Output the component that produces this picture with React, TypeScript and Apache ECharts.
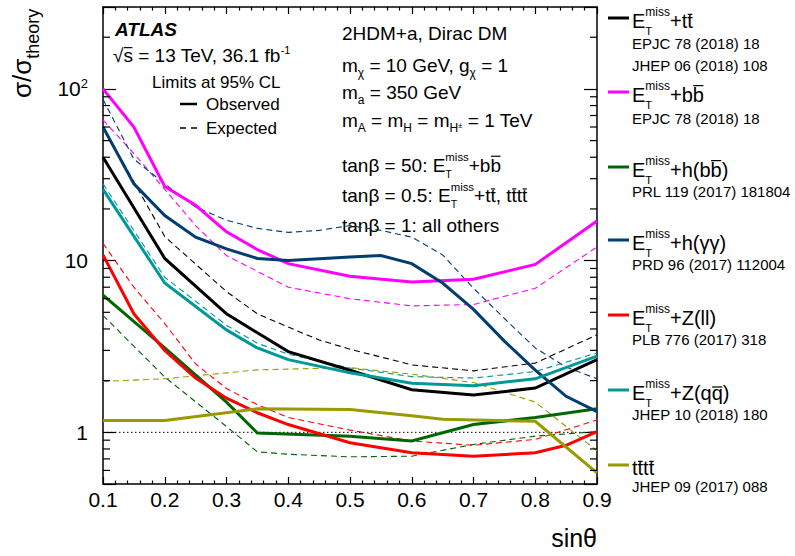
import React, { useEffect, useRef } from 'react';
import * as echarts from 'echarts';

const FONT = '"Liberation Sans", Arial, Helvetica, sans-serif';

// ---------------- data (sinθ, σ/σtheory) ----------------
const TT_OBS_X = [0.1, 0.2, 0.3, 0.35, 0.4, 0.5, 0.6, 0.7, 0.8, 0.9];
const TT_OBS_Y = [40, 10.3, 4.9, 3.8, 2.95, 2.3, 1.77, 1.65, 1.81, 2.65];
const TT_EXP_X = [0.1, 0.2, 0.3, 0.35, 0.4, 0.45, 0.5, 0.6, 0.7, 0.8, 0.9];
const TT_EXP_Y = [60, 13.8, 6.6, 4.9, 4.1, 3.45, 3.05, 2.47, 2.28, 2.53, 3.7];

const BB_OBS_X = [0.1, 0.15, 0.2, 0.25, 0.3, 0.35, 0.4, 0.5, 0.6, 0.7, 0.8, 0.9];
const BB_OBS_Y = [100, 60, 27, 21, 14.7, 11.6, 9.6, 8.1, 7.5, 7.8, 9.5, 17];
const BB_EXP_X = [0.1, 0.15, 0.2, 0.25, 0.3, 0.4, 0.5, 0.6, 0.7, 0.8, 0.9];
const BB_EXP_Y = [66, 42, 26, 16, 10.7, 7.0, 6.0, 5.45, 5.55, 6.9, 12];

const HBB_OBS_X = [0.1, 0.2, 0.3, 0.35, 0.5, 0.6, 0.7, 0.8, 0.9];
const HBB_OBS_Y = [6.3, 3.1, 1.5, 0.99, 0.95, 0.89, 1.11, 1.22, 1.37];
const HBB_EXP_X = [0.1, 0.2, 0.3, 0.35, 0.4, 0.5, 0.6, 0.7, 0.8, 0.9];
const HBB_EXP_Y = [4.8, 2.1, 1.08, 0.77, 0.745, 0.72, 0.726, 0.85, 0.95, 1.01];

const HGG_OBS_X = [0.1, 0.15, 0.2, 0.25, 0.3, 0.35, 0.4, 0.5, 0.55, 0.6, 0.65, 0.7, 0.75, 0.8, 0.85, 0.9];
const HGG_OBS_Y = [60, 28, 18.3, 13.7, 11.7, 10.3, 10.0, 10.5, 10.7, 9.6, 7.4, 5.2, 3.4, 2.3, 1.62, 1.32];
const HGG_EXP_X = [0.1, 0.15, 0.2, 0.25, 0.3, 0.35, 0.4, 0.45, 0.5, 0.55, 0.6, 0.65, 0.7, 0.75, 0.8, 0.85, 0.9];
const HGG_EXP_Y = [87, 39, 28, 20.5, 17.2, 15.4, 14.6, 15.0, 16.0, 15.0, 13.7, 10.8, 6.9, 4.6, 3.1, 2.4, 2.05];

const ZLL_OBS_X = [0.1, 0.15, 0.2, 0.25, 0.3, 0.35, 0.4, 0.5, 0.6, 0.7, 0.8, 0.85, 0.9];
const ZLL_OBS_Y = [10.8, 4.9, 3.0, 2.07, 1.58, 1.3, 1.11, 0.87, 0.76, 0.725, 0.76, 0.84, 1.01];
const ZLL_EXP_X = [0.1, 0.15, 0.2, 0.25, 0.3, 0.35, 0.4, 0.5, 0.6, 0.7, 0.8, 0.9];
const ZLL_EXP_Y = [12.6, 7.0, 4.3, 2.5, 1.8, 1.45, 1.22, 1.03, 0.89, 0.84, 0.91, 1.18];

const ZQQ_OBS_X = [0.1, 0.2, 0.3, 0.35, 0.4, 0.5, 0.6, 0.7, 0.8, 0.9];
const ZQQ_OBS_Y = [26, 7.4, 3.95, 3.1, 2.65, 2.22, 1.93, 1.87, 2.05, 2.78];
const ZQQ_EXP_X = [0.1, 0.2, 0.3, 0.35, 0.4, 0.5, 0.6, 0.7, 0.8, 0.9];
const ZQQ_EXP_Y = [28, 8.0, 4.2, 3.3, 2.85, 2.37, 2.11, 2.07, 2.26, 2.9];

const TTTT_OBS_X = [0.1, 0.2, 0.35, 0.5, 0.6, 0.65, 0.8, 0.9];
const TTTT_OBS_Y = [1.17, 1.17, 1.37, 1.36, 1.25, 1.19, 1.16, 0.58];
const TTTT_EXP_X = [0.1, 0.2, 0.35, 0.5, 0.6, 0.7, 0.8, 0.9];
const TTTT_EXP_Y = [1.98, 2.05, 2.31, 2.38, 2.18, 1.95, 1.5, 0.78];

const UNITY_X = [0.1, 0.9];
const UNITY_Y = [1, 1];

const X_MIN = 0.1;
const X_MAX = 0.9;
const Y_MIN = 0.5;
const Y_MAX = 300;
const Y_MINOR = [0.6, 0.7, 0.8, 0.9, 2, 3, 4, 5, 6, 7, 8, 9, 20, 30, 40, 50, 60, 70, 80, 90, 200];

const COLORS = {
  tt: '#000000',
  bb: '#ff00ff',
  hbb: '#006600',
  hgg: '#003d70',
  zll: '#ff0000',
  zqq: '#00999a',
  tttt: '#999900',
};

const REFS: string[][] = [
  ['EPJC 78 (2018) 18', 'JHEP 06 (2018) 108'],
  ['EPJC 78 (2018) 18'],
  ['PRL 119 (2017) 181804'],
  ['PRD 96 (2017) 112004'],
  ['PLB 776 (2017) 318'],
  ['JHEP 10 (2018) 180'],
  ['JHEP 09 (2017) 088'],
];

// ---------------- text helpers ----------------
let measureCtx: CanvasRenderingContext2D | null = null;
function tw(text: string, size: number, bold = false, italic = false) {
  if (!measureCtx) measureCtx = document.createElement('canvas').getContext('2d');
  measureCtx!.font = `${italic ? 'italic ' : ''}${bold ? 'bold ' : ''}${size}px ${FONT}`;
  return measureCtx!.measureText(text).width;
}

type Seg = {
  t: string;
  s?: number;
  db?: number;
  bar?: number;
  bold?: boolean;
  italic?: boolean;
  under?: { t: string; s: number; db: number };
};

function textEl(x: number, baseline: number, t: string, s: number, bold = false, italic = false, color = '#000') {
  const cy = baseline - 0.35 * s;
  return {
    type: 'text',
    x,
    y: cy,
    silent: true,
    style: {
      text: t,
      fontSize: s,
      fontFamily: FONT,
      fontWeight: bold ? 'bold' : 'normal',
      fontStyle: italic ? 'italic' : 'normal',
      fill: color,
      align: 'left',
      verticalAlign: 'middle',
      textAlign: 'left',
      textVerticalAlign: 'middle',
    },
  };
}

function rich(x: number, baseline: number, segs: Seg[], S: number, color = '#000') {
  const els: any[] = [];
  let cx = x;
  for (const g of segs) {
    const s = g.s ?? S;
    const b = baseline + (g.db ?? 0);
    const w = tw(g.t, s, g.bold, g.italic);
    els.push(textEl(cx, b, g.t, s, g.bold, g.italic, color));
    if (g.bar) {
      const by = b - g.bar * s;
      els.push({
        type: 'line',
        silent: true,
        shape: { x1: cx + 0.5, y1: by, x2: cx + w - 0.5, y2: by },
        style: { stroke: color, lineWidth: Math.max(1, s / 16) },
      });
    }
    let adv = w;
    if (g.under) {
      els.push(textEl(cx, baseline + g.under.db, g.under.t, g.under.s, false, false, color));
      adv = Math.max(w, tw(g.under.t, g.under.s));
    }
    cx += adv;
  }
  return els;
}

function etmiss(S: number): Seg[] {
  return [
    { t: 'E', s: S },
    { t: 'miss', s: 0.6 * S, db: -0.58 * S, under: { t: 'T', s: 0.56 * S, db: 0.33 * S } },
  ];
}

const LEGEND_LABELS: Seg[][] = [
  [...etmiss(20), { t: '+t' }, { t: 't', bar: 0.68 }],
  [...etmiss(20), { t: '+b' }, { t: 'b', bar: 0.82 }],
  [...etmiss(20), { t: '+h(b' }, { t: 'b', bar: 0.82 }, { t: ')' }],
  [...etmiss(20), { t: '+h(γγ)' }],
  [...etmiss(20), { t: '+Z(ll)' }],
  [...etmiss(20), { t: '+Z(q' }, { t: 'q', bar: 0.65 }, { t: ')' }],
  [{ t: 't' }, { t: 't', bar: 0.68 }, { t: 't' }, { t: 't', bar: 0.68 }],
];
const LEGEND_COLORS = [COLORS.tt, COLORS.bb, COLORS.hbb, COLORS.hgg, COLORS.zll, COLORS.zqq, COLORS.tttt];
const LEGEND_LINE_Y = [18, 92, 167, 240, 315, 390, 465];
const LEGEND_REF_Y = [[43, 65], [118], [191], [264], [339], [414], [486]];

function buildGraphics() {
  const els: any[] = [];
  // ATLAS block
  els.push(...rich(115, 29 + 6.7, [{ t: 'ATLAS', bold: true, italic: true }], 19));
  els.push(
    ...rich(113, 55 + 6.7, [{ t: '√' }, { t: 's', bar: 0.74 }, { t: ' = 13 TeV, 36.1 fb' }, { t: '-1', s: 11, db: -8 }], 19)
  );
  els.push(...rich(152, 82 + 6, [{ t: 'Limits at 95% CL' }], 17));
  els.push(...rich(206, 104 + 6, [{ t: 'Observed' }], 17));
  els.push(...rich(206, 128 + 6, [{ t: 'Expected' }], 17));
  els.push({ type: 'line', silent: true, shape: { x1: 180, y1: 104, x2: 197, y2: 104 }, style: { stroke: '#000', lineWidth: 2.5 } });
  els.push({ type: 'line', silent: true, shape: { x1: 180, y1: 128, x2: 186, y2: 128 }, style: { stroke: '#000', lineWidth: 1.5 } });
  els.push({ type: 'line', silent: true, shape: { x1: 191, y1: 128, x2: 197, y2: 128 }, style: { stroke: '#000', lineWidth: 1.5 } });

  // model block
  const S = 19;
  const off = 0.36 * S;
  const sub = (t: string): Seg => ({ t, s: 12, db: 5 });
  els.push(...rich(342, 33 + off, [{ t: '2HDM+a, Dirac DM' }], S));
  els.push(...rich(342, 65 + off, [{ t: 'm' }, sub('χ'), { t: ' = 10 GeV, g' }, sub('χ'), { t: ' = 1' }], S));
  els.push(...rich(342, 92 + off, [{ t: 'm' }, sub('a'), { t: ' = 350 GeV' }], S));
  els.push(
    ...rich(
      342,
      120 + off,
      [{ t: 'm' }, sub('A'), { t: ' = m' }, sub('H'), { t: ' = m' }, sub('H'), { t: '±', s: 8, db: 1 }, { t: ' = 1 TeV' }],
      S
    )
  );
  els.push(...rich(342, 165 + off, [{ t: 'tanβ = 50: ' }, ...etmiss(S), { t: '+b' }, { t: 'b', bar: 0.82 }], S));
  els.push(
    ...rich(
      342,
      195 + off,
      [
        { t: 'tanβ = 0.5: ' },
        ...etmiss(S),
        { t: '+t' },
        { t: 't', bar: 0.68 },
        { t: ', t' },
        { t: 't', bar: 0.68 },
        { t: 't' },
        { t: 't', bar: 0.68 },
      ],
      S
    )
  );
  els.push(...rich(342, 225 + off, [{ t: 'tanβ = 1: all others' }], S));

  // right legend
  LEGEND_LABELS.forEach((segs, i) => {
    const ly = LEGEND_LINE_Y[i];
    els.push({
      type: 'line',
      silent: true,
      shape: { x1: 608, y1: ly, x2: 629, y2: ly },
      style: { stroke: LEGEND_COLORS[i], lineWidth: 3 },
    });
    els.push(...rich(632, ly + 10, segs, 20));
    REFS[i].forEach((r, k) => {
      els.push(...rich(632, LEGEND_REF_Y[i][k] + 5.4, [{ t: r }], 15));
    });
  });

  // axis titles
  els.push(...rich(597 - tw('sinθ', 25), 547, [{ t: 'sinθ' }], 25));
  els.push({
    type: 'group',
    x: 31,
    y: 98,
    rotation: Math.PI / 2,
    children: rich(0, 0, [{ t: 'σ/σ' }, { t: 'theory', s: 18, db: 8 }], 26),
  });
  return els;
}

function zip(xs: number[], ys: number[]) {
  return xs.map((x, i) => [x, ys[i]]);
}

function obs(name: string, xs: number[], ys: number[], color: string) {
  return {
    name,
    type: 'line',
    data: zip(xs, ys),
    showSymbol: false,
    symbol: 'none',
    silent: true,
    z: 4,
    lineStyle: { color, width: 3, type: 'solid', cap: 'butt', join: 'miter' },
  };
}
function expd(name: string, xs: number[], ys: number[], color: string) {
  return {
    name,
    type: 'line',
    data: zip(xs, ys),
    showSymbol: false,
    symbol: 'none',
    silent: true,
    z: 3,
    lineStyle: { color, width: 1.1, type: [6, 4] },
  };
}

function yLabel(v: number) {
  const l = Math.log10(v);
  if (Math.abs(l - Math.round(l)) > 1e-6) return '';
  const e = Math.round(l);
  if (e === 0) return '{n|1}';
  if (e === 1) return '{n|10}';
  return `{n|10}{s|${e}}`;
}

export default function App() {
  const ref = useRef<HTMLDivElement>(null);
  useEffect(() => {
    if (!ref.current) return;
    const chart = echarts.init(ref.current, undefined, { renderer: 'svg' });
    const axisLine = { show: true, onZero: false, lineStyle: { color: '#000', width: 1.5 } };
    const xCommon = {
      type: 'value',
      min: X_MIN,
      max: X_MAX,
      interval: 0.1,
      axisLine,
      axisTick: { show: true, inside: true, length: 7, lineStyle: { color: '#000', width: 1.2 } },
      minorTick: { show: true, splitNumber: 5, length: 3.5, lineStyle: { color: '#000', width: 1.2 } },
      splitLine: { show: false },
      minorSplitLine: { show: false },
    };
    const yCommon = {
      type: 'log',
      logBase: 10,
      min: Y_MIN,
      max: Y_MAX,
      axisLine,
      axisTick: { show: true, inside: true, length: 13, lineStyle: { color: '#000', width: 1.2 } },
      splitLine: { show: false },
    };
    const option: any = {
      animation: false,
      grid: { left: 103, right: 198, top: 7, bottom: 72, containLabel: false },
      xAxis: [
        {
          ...xCommon,
          position: 'bottom',
          axisLabel: {
            show: true,
            margin: 5,
            fontSize: 21,
            fontFamily: FONT,
            color: '#000',
            formatter: (v: number) => v.toFixed(1),
          },
        },
        { ...xCommon, position: 'top', axisLabel: { show: false } },
      ],
      yAxis: [
        {
          ...yCommon,
          position: 'left',
          axisLabel: {
            show: true,
            margin: 15,
            formatter: yLabel,
            rich: {
              n: { fontSize: 21, fontFamily: FONT, color: '#000', lineHeight: 24 },
              s: { fontSize: 13, fontFamily: FONT, color: '#000', verticalAlign: 'top', lineHeight: 14 },
            },
          },
        },
        { ...yCommon, position: 'right', axisLabel: { show: false } },
      ],
      series: [
        {
          name: 'unity',
          type: 'line',
          data: zip(UNITY_X, UNITY_Y),
          showSymbol: false,
          symbol: 'none',
          silent: true,
          z: 2,
          lineStyle: { color: '#000', width: 1, type: [1.5, 2.5] },
        },
        expd('tt exp', TT_EXP_X, TT_EXP_Y, COLORS.tt),
        expd('bb exp', BB_EXP_X, BB_EXP_Y, COLORS.bb),
        expd('hbb exp', HBB_EXP_X, HBB_EXP_Y, COLORS.hbb),
        expd('hgg exp', HGG_EXP_X, HGG_EXP_Y, COLORS.hgg),
        expd('zll exp', ZLL_EXP_X, ZLL_EXP_Y, COLORS.zll),
        expd('zqq exp', ZQQ_EXP_X, ZQQ_EXP_Y, COLORS.zqq),
        expd('tttt exp', TTTT_EXP_X, TTTT_EXP_Y, COLORS.tttt),
        obs('tt obs', TT_OBS_X, TT_OBS_Y, COLORS.tt),
        obs('bb obs', BB_OBS_X, BB_OBS_Y, COLORS.bb),
        obs('hbb obs', HBB_OBS_X, HBB_OBS_Y, COLORS.hbb),
        obs('hgg obs', HGG_OBS_X, HGG_OBS_Y, COLORS.hgg),
        obs('zll obs', ZLL_OBS_X, ZLL_OBS_Y, COLORS.zll),
        obs('zqq obs', ZQQ_OBS_X, ZQQ_OBS_Y, COLORS.zqq),
        obs('tttt obs', TTTT_OBS_X, TTTT_OBS_Y, COLORS.tttt),
        {
          name: 'minor ticks',
          type: 'custom',
          silent: true,
          clip: false,
          z: 5,
          data: Y_MINOR.map((v) => [X_MIN, v]),
          encode: { x: 0, y: 1 },
          renderItem: (_p: any, api: any) => {
            const v = api.value(1);
            const pl = api.coord([X_MIN, v]);
            const pr = api.coord([X_MAX, v]);
            return {
              type: 'group',
              children: [
                { type: 'line', shape: { x1: pl[0], y1: pl[1], x2: pl[0] + 7, y2: pl[1] }, style: { stroke: '#000', lineWidth: 1.2 } },
                { type: 'line', shape: { x1: pr[0], y1: pr[1], x2: pr[0] - 7, y2: pr[1] }, style: { stroke: '#000', lineWidth: 1.2 } },
              ],
            };
          },
        },
      ],
      graphic: buildGraphics(),
    };
    chart.setOption(option);
    return () => chart.dispose();
  }, []);
  return (
    <div
      ref={ref}
      style={{ position: 'fixed', left: 0, top: 0, width: 795, height: 556, background: '#fff' }}
    />
  );
}
